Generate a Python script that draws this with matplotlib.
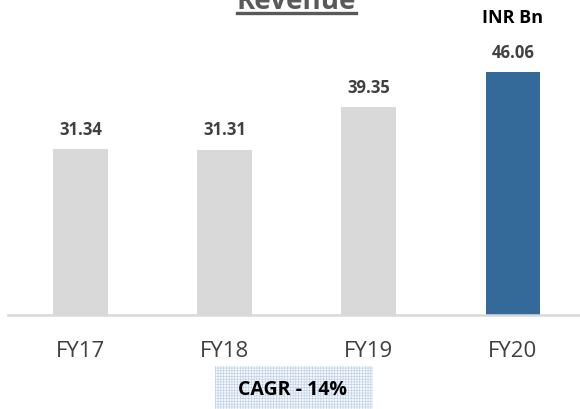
import matplotlib.pyplot as plt
from matplotlib.patches import Rectangle
from matplotlib.lines import Line2D

years = ["FY17", "FY18", "FY19", "FY20"]
revenue = [31.34, 31.31, 39.35, 46.06]
bar_colors = ["#d9d9d9", "#d9d9d9", "#d9d9d9", "#346a9a"]

plt.rcParams['font.family'] = ['Open Sans', 'DejaVu Sans']
plt.rcParams['hatch.linewidth'] = 0.4

fig = plt.figure(figsize=(5.8, 4.1), dpi=100)
ax = fig.add_axes([8 / 580, 1 - 316 / 410, 572 / 580, 316 / 410])

x = range(len(years))
ax.bar(x, revenue, width=0.38, color=bar_colors)
for i, v in zip(x, revenue):
    ax.text(i, v + 3.8, f"{v:.2f}", ha='center', va='center',
            fontsize=12, fontweight='bold', color='#404040')

ax.set_xlim(-0.503, 3.465)
ax.set_ylim(0, 59.8)
ax.set_yticks([])
ax.set_xticks(list(x))
ax.set_xticklabels(years, fontsize=16, color='#404040')
ax.tick_params(axis='x', length=0, pad=18)
for s in ['top', 'right', 'left']:
    ax.spines[s].set_visible(False)
ax.spines['bottom'].set_color('#d9d9d9')
ax.spines['bottom'].set_linewidth(1.8)

# title, partly cut off at the top edge
fig.text(296 / 580, 1 - 9 / 410, "Revenue", ha='center', va='baseline',
         fontsize=20, fontweight='bold', color='#595959')
fig.add_artist(Line2D([237 / 580, 356 / 580], [1 - 14.3 / 410, 1 - 14.3 / 410],
                      color='#595959', lw=2.4, transform=fig.transFigure))

fig.text(513 / 580, 1 - 18 / 410, "INR Bn", ha='center', va='center',
         fontsize=13, fontweight='bold', color='black')

fig.add_artist(Rectangle((215 / 580, 0), 158 / 580, 43 / 410,
                         transform=fig.transFigure, facecolor='#f3f6fa',
                         edgecolor='#bccfe6', linewidth=0, hatch='++++++'))
fig.text(293 / 580, 1 - 390 / 410, "CAGR - 14%", ha='center', va='center',
         fontsize=14, fontweight='bold', color='black')

fig.savefig("out.png", dpi=100)
